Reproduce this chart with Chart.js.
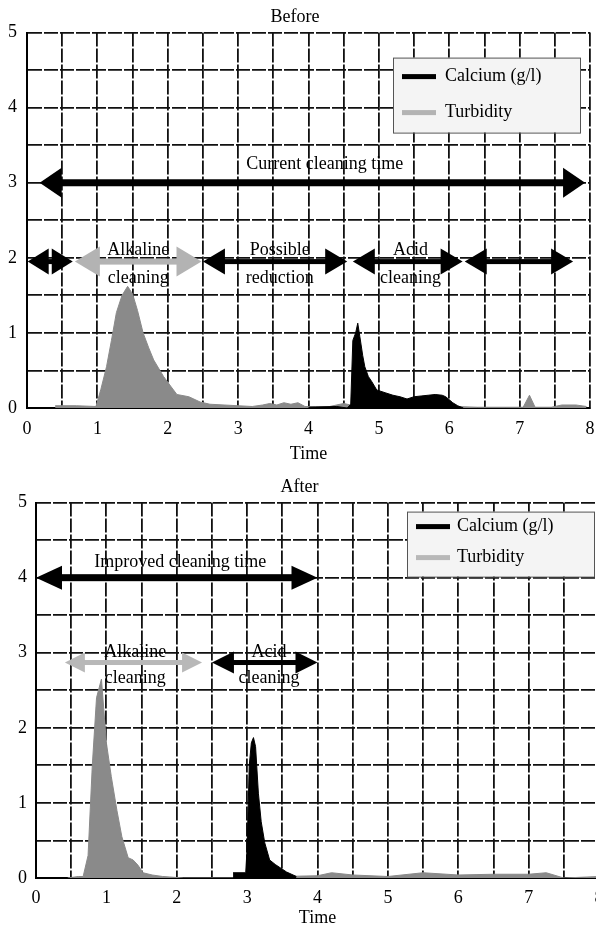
<!DOCTYPE html>
<html><head><meta charset="utf-8">
<script src="https://cdn.jsdelivr.net/npm/chart.js@4.4.1/dist/chart.umd.min.js"></script>
<style>
html,body{margin:0;padding:0;background:#fff;overflow:hidden;}
body{width:596px;height:929px;position:relative;}
canvas{position:absolute;left:0;}
#before{top:0;}
#after{top:465px;}
</style></head><body>
<canvas id="before" width="596" height="465"></canvas>
<canvas id="after" width="604" height="464"></canvas>
<script>
// ---------- data ----------
const seriesLabels = ['Calcium (g/l)', 'Turbidity'];
const xTickLabels = ['0','1','2','3','4','5','6','7','8'];
const yTickLabels = ['0','1','2','3','4','5'];
const axisTitle = 'Time';
const panelTitles = ['Before', 'After'];

const beforeCalciumX = [4.0, 4.4, 4.55, 4.6, 4.63, 4.67, 4.7, 4.73, 4.77, 4.8, 4.85, 4.9, 4.97, 5.1, 5.2, 5.3, 5.4, 5.5, 5.6, 5.7, 5.8, 5.9, 5.95, 6.05, 6.12, 6.2];
const beforeCalciumY = [0.01, 0.02, 0.0, 0.05, 0.9, 1.0, 1.13, 0.95, 0.7, 0.55, 0.42, 0.35, 0.24, 0.2, 0.17, 0.15, 0.12, 0.15, 0.16, 0.17, 0.18, 0.17, 0.15, 0.07, 0.03, 0.0];

const beforeTurbidityX = [0.4, 0.7, 0.98, 1.05, 1.13, 1.2, 1.27, 1.35, 1.43, 1.5, 1.57, 1.65, 1.73, 1.8, 1.94, 2.05, 2.13, 2.3, 2.46, 2.6, 2.8, 3.0, 3.2, 3.35, 3.45, 3.55, 3.65, 3.75, 3.85, 3.95, 4.1, 4.3, 4.5, 4.7, 4.9, 5.1, 5.3, 5.5, 5.7, 5.9, 6.1, 6.4, 6.8, 7.05, 7.14, 7.22, 7.45, 7.6, 7.8, 7.95];
const beforeTurbidityY = [0.03, 0.03, 0.02, 0.25, 0.55, 0.9, 1.27, 1.5, 1.62, 1.52, 1.3, 1.0, 0.8, 0.64, 0.42, 0.28, 0.18, 0.15, 0.08, 0.05, 0.04, 0.03, 0.02, 0.04, 0.06, 0.04, 0.07, 0.05, 0.07, 0.02, 0.02, 0.02, 0.06, 0.02, 0.04, 0.08, 0.04, 0.06, 0.08, 0.04, 0.02, 0.01, 0.01, 0.01, 0.17, 0.01, 0.01, 0.04, 0.04, 0.02];

const afterCalciumX = [2.8, 2.98, 3.0, 3.03, 3.06, 3.09, 3.12, 3.16, 3.2, 3.25, 3.32, 3.4, 3.56, 3.7];
const afterCalciumY = [0.07, 0.07, 0.4, 1.5, 1.8, 1.87, 1.75, 1.13, 0.75, 0.47, 0.24, 0.18, 0.08, 0.02];

const afterTurbidityX = [0.45, 0.6, 0.67, 0.74, 0.8, 0.86, 0.93, 1.0, 1.07, 1.15, 1.22, 1.31, 1.38, 1.45, 1.52, 1.65, 1.8, 1.95, 2.1, 2.5, 3.0, 3.5, 4.0, 4.2, 4.5, 5.0, 5.5, 6.0, 6.5, 7.0, 7.25, 7.5, 8.0];
const afterTurbidityY = [0.0, 0.02, 0.02, 0.3, 1.5, 2.4, 2.65, 1.8, 1.35, 0.9, 0.55, 0.27, 0.24, 0.17, 0.07, 0.04, 0.02, 0.01, 0.0, 0.0, 0.0, 0.02, 0.03, 0.07, 0.04, 0.02, 0.07, 0.04, 0.05, 0.05, 0.07, 0.0, 0.02];

// annotated phases (time span and level)
const beforePhaseStart = [0.18, 0.01, 0.68, 2.5, 4.63, 6.22];
const beforePhaseEnd   = [7.93, 0.65, 2.48, 4.55, 6.19, 7.76];
const beforePhaseLevel = [3.0, 1.95, 1.95, 1.95, 1.95, 1.95];
const beforePhaseText  = ['Current cleaning time', '', 'Alkaline\ncleaning', 'Possible\nreduction', 'Acid\ncleaning', ''];

const afterPhaseStart = [0.0, 0.41, 2.5];
const afterPhaseEnd   = [4.0, 2.36, 4.0];
const afterPhaseLevel = [4.0, 2.87, 2.87];
const afterPhaseText  = ['Improved cleaning time', 'Alkaline\ncleaning', 'Acid\ncleaning'];

// ---------- styling / layout ----------
const SERIF = '"Liberation Serif", "Times New Roman", serif';
const beforeTextAt = [[4.23, 3.24], null, [1.58, 1.92], [3.59, 1.92], [5.45, 1.92], null];
const afterTextAt = [[2.05, 4.21], [1.41, 2.84], [3.31, 2.84]];
const beforeStyles = [{color:'#000', line:7, head:22, half:15}, {color:'#000', line:5, head:21, half:13}, {color:'#b3b3b3', line:6, head:25, half:15}, {color:'#000', line:5, head:22, half:13}, {color:'#000', line:5, head:22, half:13}, {color:'#000', line:5, head:22, half:13}];
const afterStyles = [{color:'#000', line:7, head:26, half:12}, {color:'#b8b8b8', line:5, head:20, half:10}, {color:'#000', line:5, head:22, half:11}];

function xy(xs, ys) { return xs.map((v, i) => ({x: v, y: ys[i]})); }

const notesPlugin = {
  id: 'notes',
  afterDatasetsDraw(chart, args, o) {
    const ctx = chart.ctx, sx = chart.scales.x, sy = chart.scales.y;
    ctx.save();
    o.start.forEach((s, i) => {
      const st = o.styles[i];
      const x1 = sx.getPixelForValue(s), x2 = sx.getPixelForValue(o.end[i]);
      const py = sy.getPixelForValue(o.level[i]);
      ctx.fillStyle = st.color;
      const sh0 = x1 + st.head * 0.8, sh1 = x2 - st.head * 0.8;
      if (sh1 > sh0) ctx.fillRect(sh0, py - st.line / 2, sh1 - sh0, st.line);
      ctx.beginPath(); ctx.moveTo(x1, py); ctx.lineTo(x1 + st.head, py - st.half); ctx.lineTo(x1 + st.head, py + st.half); ctx.closePath(); ctx.fill();
      ctx.beginPath(); ctx.moveTo(x2, py); ctx.lineTo(x2 - st.head, py - st.half); ctx.lineTo(x2 - st.head, py + st.half); ctx.closePath(); ctx.fill();
    });
    ctx.fillStyle = '#000';
    ctx.font = '18px ' + SERIF;
    ctx.textAlign = 'center';
    ctx.textBaseline = 'middle';
    o.text.forEach((t, i) => {
      if (!t) return;
      const at = o.textAt[i];
      const px = sx.getPixelForValue(at[0]), py = sy.getPixelForValue(at[1]);
      const lines = t.split('\n');
      lines.forEach((ln, k) => ctx.fillText(ln, px, py + (k - (lines.length - 1) / 2) * o.lineGap));
    });
    ctx.restore();
  },
  afterDraw(chart, args, o) {
    const ctx = chart.ctx, ca = chart.chartArea, L = o.legend;
    ctx.save();
    const left = ca.right - L.right - L.w, top = ca.top + L.top;
    ctx.fillStyle = '#f4f4f4';
    ctx.fillRect(left, top, L.w, L.h);
    ctx.strokeStyle = '#555'; ctx.lineWidth = 1;
    ctx.strokeRect(left + 0.5, top + 0.5, L.w, L.h);
    ctx.font = '18px ' + SERIF; ctx.textAlign = 'left'; ctx.textBaseline = 'middle';
    chart.data.datasets.forEach((ds, i) => {
      const y = top + L.rows[i];
      ctx.fillStyle = L.swatch[i];
      ctx.fillRect(left + 9, y - 2.5, 34, 5);
      ctx.fillStyle = '#000';
      ctx.fillText(ds.label, left + L.textX, y);
    });
    ctx.restore();
  }
};

function makeChart(id, c) {
  const tickFont = {family: SERIF, size: 18};
  return new Chart(document.getElementById(id), {
    type: 'line',
    data: {datasets: [
      {label: seriesLabels[0], data: xy(c.calX, c.calY), borderColor: '#000', backgroundColor: '#000', fill: 'origin', borderWidth: 1, pointRadius: 0, tension: 0},
      {label: seriesLabels[1], data: xy(c.turX, c.turY), borderColor: '#8a8a8a', backgroundColor: '#8a8a8a', fill: 'origin', borderWidth: 1, pointRadius: 0, tension: 0}
    ]},
    options: {
      responsive: false, animation: false, events: [],
      layout: {padding: {left: 0, right: c.padRight, top: 0, bottom: 0}},
      plugins: {
        legend: {display: false}, tooltip: {enabled: false},
        title: {display: true, text: c.title, color: '#000', font: {family: SERIF, size: 18, weight: 'normal'}, padding: {top: c.titleTop, bottom: c.titleBottom}},
        notes: c.notes
      },
      scales: {
        x: {
          type: 'linear', min: 0, max: 8,
          afterFit: s => { s.height = c.xHeight; s.paddingLeft = 0; s.paddingRight = 0; },
          ticks: {stepSize: 0.5, autoSkip: false, maxRotation: 0, color: '#000', font: tickFont, padding: c.xPad,
                  callback: v => Number.isInteger(v) ? xTickLabels[v] : ''},
          grid: {color: '#111', lineWidth: 1.8, drawTicks: false},
          border: {display: true, color: '#000', width: 2, dash: [14, 2]},
          title: {display: true, text: axisTitle, color: '#000', font: tickFont, padding: {top: 2, bottom: 0}}
        },
        y: {
          min: 0, max: 5,
          afterFit: s => { s.width = c.yWidth; },
          ticks: {stepSize: 0.5, autoSkip: false, color: '#000', font: tickFont, padding: c.yPad,
                  callback: v => Number.isInteger(v) ? yTickLabels[v] : ''},
          grid: {color: '#111', lineWidth: 1.8, drawTicks: false},
          border: {display: true, color: '#000', width: 2, dash: [14, 2]}
        }
      }
    },
    plugins: [notesPlugin]
  });
}

makeChart('before', {
  title: panelTitles[0], titleTop: 6, titleBottom: 5,
  calX: beforeCalciumX, calY: beforeCalciumY, turX: beforeTurbidityX, turY: beforeTurbidityY,
  padRight: 6, xHeight: 57, xPad: 10, yWidth: 27, yPad: 10,
  notes: {start: beforePhaseStart, end: beforePhaseEnd, level: beforePhaseLevel, text: beforePhaseText,
          textAt: beforeTextAt, styles: beforeStyles, lineGap: 28,
          legend: {right: 10, top: 25, w: 187, h: 75, rows: [19, 55], textX: 52, swatch: ['#000', '#b3b3b3']}}
});

makeChart('after', {
  title: panelTitles[1], titleTop: 11, titleBottom: 5,
  calX: afterCalciumX, calY: afterCalciumY, turX: afterTurbidityX, turY: afterTurbidityY,
  padRight: 5, xHeight: 51, xPad: 9, yWidth: 36, yPad: 9,
  notes: {start: afterPhaseStart, end: afterPhaseEnd, level: afterPhaseLevel, text: afterPhaseText,
          textAt: afterTextAt, styles: afterStyles, lineGap: 26,
          legend: {right: 5, top: 9, w: 187, h: 65, rows: [15, 46], textX: 50, swatch: ['#000', '#b8b8b8']}}
});
</script></body></html>
